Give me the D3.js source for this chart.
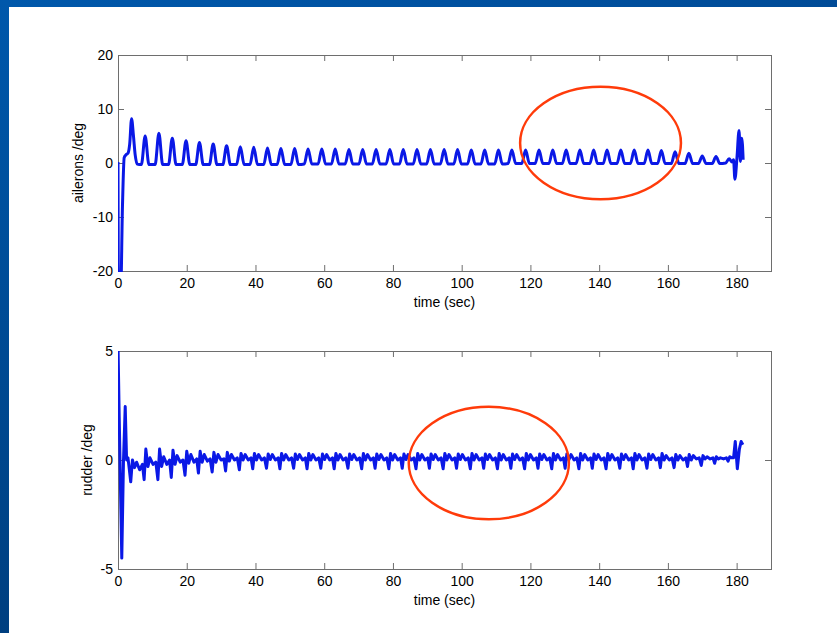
<!DOCTYPE html>
<html>
<head>
<meta charset="utf-8">
<script src="https://cdn.jsdelivr.net/npm/d3@7"></script>
<style>
  body { margin: 0; background: #fff; }
  svg { display: block; }
  text { font-family: "Liberation Sans", Arial, sans-serif; }
</style>
</head>
<body>
<svg id="chart" width="837" height="633"></svg>
<script>
// Time axis
const timeRange = [0, 190];
const timeTicks = [0, 20, 40, 60, 80, 100, 120, 140, 160, 180];

// Aileron deflection (deg) vs time (sec)
const aileronRange = [-20, 20];
const aileronTicks = [-20, -10, 0, 10, 20];
const aileronPoints = [
  [0, 0.2], [0.15, -25], [0.75, -25], [1.3, -8], [1.8, 1.0], [2.3, 1.5], [2.9, 1.8],
  [3.4, 3.5], [3.95, 8.2], [4.5, 5.0], [5.0, 1.5], [5.6, -0.2],
  [6.8, -0.3], [7.9, 5.0], [9.0, -0.3],
  [10.8, -0.3], [11.9, 5.5], [13.0, -0.3],
  [14.7, -0.3], [15.8, 4.6], [16.9, -0.3],
  [18.7, -0.3], [19.8, 4.1], [20.9, -0.3],
  [22.6, -0.3], [23.7, 3.8], [24.8, -0.3],
  [26.6, -0.3], [27.7, 3.5], [28.8, -0.3],
  [30.5, -0.3], [31.6, 3.2], [32.7, -0.3],
  [34.5, -0.3], [35.6, 3.0], [36.7, -0.3],
  [38.4, -0.3], [39.5, 2.9], [40.6, -0.3],
  [42.4, -0.3], [43.5, 2.8], [44.6, -0.3],
  [46.3, -0.3], [47.4, 2.7], [48.5, -0.3],
  [50.3, -0.3], [51.4, 2.7], [52.5, -0.3],
  [54.2, -0.2], [55.3, 2.6], [56.4, -0.2],
  [58.2, -0.2], [59.3, 2.6], [60.4, -0.2],
  [62.1, -0.2], [63.2, 2.6], [64.3, -0.2],
  [66.1, -0.2], [67.2, 2.5], [68.3, -0.2],
  [70.1, -0.2], [71.2, 2.5], [72.3, -0.2],
  [74.0, -0.2], [75.1, 2.5], [76.2, -0.2],
  [78.0, -0.2], [79.1, 2.5], [80.2, -0.2],
  [81.9, -0.2], [83.0, 2.5], [84.1, -0.2],
  [85.9, -0.2], [87.0, 2.5], [88.1, -0.2],
  [89.8, -0.2], [90.9, 2.5], [92.0, -0.2],
  [93.8, -0.2], [94.9, 2.5], [96.0, -0.2],
  [97.7, -0.2], [98.8, 2.5], [99.9, -0.2],
  [101.7, -0.2], [102.8, 2.4], [103.9, -0.2],
  [105.6, -0.2], [106.7, 2.4], [107.8, -0.2],
  [109.6, -0.2], [110.7, 2.4], [111.8, -0.2],
  [113.5, -0.1], [114.6, 2.4], [115.7, -0.1],
  [117.5, -0.1], [118.6, 2.4], [119.7, -0.1],
  [121.4, -0.1], [122.5, 2.4], [123.6, -0.1],
  [125.4, -0.1], [126.5, 2.4], [127.6, -0.1],
  [129.3, -0.1], [130.4, 2.4], [131.5, -0.1],
  [133.3, -0.1], [134.4, 2.4], [135.5, -0.1],
  [137.3, -0.1], [138.4, 2.4], [139.5, -0.1],
  [141.2, -0.1], [142.3, 2.4], [143.4, -0.1],
  [145.2, -0.1], [146.3, 2.4], [147.4, -0.1],
  [149.1, -0.1], [150.2, 2.4], [151.3, -0.1],
  [153.1, -0.1], [154.2, 2.4], [155.3, -0.1],
  [157.0, -0.1], [158.1, 2.3], [159.2, -0.1],
  [161.0, -0.1], [162.1, 2.1], [163.2, -0.1],
  [165.0, -0.1], [166.1, 1.8], [167.2, -0.1],
  [168.9, -0.1], [170.0, 1.3], [171.1, -0.1],
  [172.9, -0.1], [174.0, 1.2], [175.1, -0.1],
  [176.8, 0.0], [177.8, 0.8], [178.6, 0.2],
  [179.1, 0.6], [179.5, -3.0], [180.1, 1.0], [180.7, 6.0], [181.1, 0.3], [181.5, 4.6], [181.9, 0.6]
];

// Rudder deflection (deg) vs time (sec)
const rudderRange = [-5, 5];
const rudderTicks = [-5, 0, 5];
const rudderPoints = [
  [0, 5.3], [0.35, 2.0], [1.1, -4.5], [1.6, 0.0], [2.1, 2.45], [2.5, 0.0], [2.9, 0.1], [3.2, -0.3],
  [3.7, -1.0], [4.2, 0.0], [4.8, -0.35], [5.4, -0.1], [6.3, -0.45], [7.1, -0.2],
  [7.6, -0.9], [8.1, 0.5], [8.7, -0.3], [9.3, 0.1], [10.2, -0.2], [11.0, -0.1],
  [11.6, -0.9], [12.1, 0.5], [12.7, -0.3], [13.3, 0.15], [14.2, -0.2], [15.0, 0.0],
  [15.5, -0.8], [16.0, 0.45], [16.6, -0.2], [17.2, 0.2], [18.1, -0.1], [18.9, 0.0],
  [19.5, -0.7], [20.0, 0.4], [20.6, -0.15], [21.2, 0.25], [22.1, -0.1], [22.9, 0.05],
  [23.4, -0.6], [23.9, 0.4], [24.5, -0.1], [25.1, 0.25], [26.0, -0.05], [26.8, 0.05],
  [27.4, -0.55], [27.9, 0.35], [28.5, -0.1], [29.1, 0.25], [30.0, 0.0], [30.8, 0.05],
  [31.3, -0.5], [31.8, 0.35], [32.4, -0.05], [33.0, 0.25], [33.9, 0.0], [34.7, 0.1],
  [35.3, -0.45], [35.8, 0.3], [36.4, 0.0], [37.0, 0.25], [37.9, 0.0], [38.7, 0.1],
  [39.2, -0.4], [39.7, 0.3], [40.3, 0.0], [40.9, 0.25], [41.8, 0.0], [42.6, 0.1],
  [43.2, -0.38], [43.7, 0.28], [44.3, 0.02], [44.9, 0.25], [45.8, 0.0], [46.6, 0.1],
  [47.1, -0.4], [47.6, 0.3], [48.2, 0.0], [48.8, 0.25], [49.7, 0.0], [50.5, 0.1],
  [51.1, -0.38], [51.6, 0.28], [52.2, 0.02], [52.8, 0.25], [53.7, 0.0], [54.5, 0.1],
  [55.0, -0.4], [55.5, 0.3], [56.1, 0.0], [56.7, 0.25], [57.6, 0.0], [58.4, 0.1],
  [59.0, -0.38], [59.5, 0.28], [60.1, 0.02], [60.7, 0.25], [61.6, 0.0], [62.4, 0.1],
  [62.9, -0.4], [63.4, 0.3], [64.0, 0.0], [64.6, 0.25], [65.5, 0.0], [66.3, 0.1],
  [66.9, -0.38], [67.4, 0.28], [68.0, 0.02], [68.6, 0.25], [69.5, 0.0], [70.3, 0.1],
  [70.9, -0.4], [71.4, 0.3], [72.0, 0.0], [72.6, 0.25], [73.5, 0.0], [74.3, 0.1],
  [74.8, -0.38], [75.3, 0.28], [75.9, 0.02], [76.5, 0.25], [77.4, 0.0], [78.2, 0.1],
  [78.8, -0.4], [79.3, 0.3], [79.9, 0.0], [80.5, 0.25], [81.4, 0.0], [82.2, 0.1],
  [82.7, -0.38], [83.2, 0.28], [83.8, 0.02], [84.4, 0.25], [85.3, 0.0], [86.1, 0.1],
  [86.7, -0.4], [87.2, 0.3], [87.8, 0.0], [88.4, 0.25], [89.3, 0.0], [90.1, 0.1],
  [90.6, -0.38], [91.1, 0.28], [91.7, 0.02], [92.3, 0.25], [93.2, 0.0], [94.0, 0.1],
  [94.6, -0.4], [95.1, 0.3], [95.7, 0.0], [96.3, 0.25], [97.2, 0.0], [98.0, 0.1],
  [98.5, -0.38], [99.0, 0.28], [99.6, 0.02], [100.2, 0.25], [101.1, 0.0], [101.9, 0.1],
  [102.5, -0.4], [103.0, 0.3], [103.6, 0.0], [104.2, 0.25], [105.1, 0.0], [105.9, 0.1],
  [106.4, -0.38], [106.9, 0.28], [107.5, 0.02], [108.1, 0.25], [109.0, 0.0], [109.8, 0.1],
  [110.4, -0.4], [110.9, 0.3], [111.5, 0.0], [112.1, 0.25], [113.0, 0.0], [113.8, 0.1],
  [114.3, -0.38], [114.8, 0.28], [115.4, 0.02], [116.0, 0.25], [116.9, 0.0], [117.7, 0.1],
  [118.3, -0.4], [118.8, 0.3], [119.4, 0.0], [120.0, 0.25], [120.9, 0.0], [121.7, 0.1],
  [122.2, -0.38], [122.7, 0.28], [123.3, 0.02], [123.9, 0.25], [124.8, 0.0], [125.6, 0.1],
  [126.2, -0.4], [126.7, 0.3], [127.3, 0.0], [127.9, 0.25], [128.8, 0.0], [129.6, 0.1],
  [130.1, -0.38], [130.6, 0.28], [131.2, 0.02], [131.8, 0.25], [132.7, 0.0], [133.5, 0.1],
  [134.1, -0.4], [134.6, 0.3], [135.2, 0.0], [135.8, 0.25], [136.7, 0.0], [137.5, 0.1],
  [138.0, -0.38], [138.5, 0.28], [139.1, 0.02], [139.7, 0.25], [140.6, 0.0], [141.4, 0.1],
  [142.0, -0.4], [142.5, 0.3], [143.1, 0.0], [143.7, 0.25], [144.6, 0.0], [145.4, 0.1],
  [146.0, -0.38], [146.5, 0.28], [147.1, 0.02], [147.7, 0.25], [148.6, 0.0], [149.4, 0.1],
  [149.9, -0.4], [150.4, 0.3], [151.0, 0.0], [151.6, 0.25], [152.5, 0.0], [153.3, 0.1],
  [153.9, -0.38], [154.4, 0.28], [155.0, 0.02], [155.6, 0.25], [156.5, 0.0], [157.3, 0.1],
  [157.8, -0.35], [158.3, 0.3], [158.9, 0.0], [159.5, 0.2], [160.4, 0.0], [161.2, 0.1],
  [161.8, -0.35], [162.3, 0.25], [162.9, 0.0], [163.5, 0.2], [164.4, 0.0], [165.2, 0.1],
  [165.7, -0.3], [166.2, 0.25], [166.8, 0.0], [167.4, 0.2], [168.3, 0.05], [169.1, 0.1],
  [169.7, -0.25], [170.2, 0.2], [170.8, 0.05], [171.4, 0.15], [172.3, 0.05], [173.1, 0.1],
  [173.6, -0.15], [174.1, 0.15], [174.7, 0.05], [175.3, 0.1], [176.2, 0.05], [177.0, 0.1],
  [177.5, -0.05], [178.0, 0.15], [178.6, 0.1],
  [179.1, 0.1], [179.6, 0.85], [180.2, -0.4], [180.8, 0.5], [181.3, 0.85], [181.8, 0.7]
];

// Highlight ellipses: [centre time, centre deg, half-width sec, half-height deg]
const aileronHighlight = [140.4, 3.7, 23.4, 10.4];
const rudderHighlight = [107.9, -0.14, 23.3, 2.58];

const svg = d3.select('#chart');
const W = 837, H = 633;

// Slide background: white page with blue frame on top and left
const defs = svg.append('defs');
const gTop = defs.append('linearGradient').attr('id', 'bandTop');
gTop.append('stop').attr('offset', '0%').attr('stop-color', '#0058ab');
gTop.append('stop').attr('offset', '100%').attr('stop-color', '#004b97');
const gLeft = defs.append('linearGradient').attr('id', 'bandLeft')
    .attr('x1', 0).attr('y1', 0).attr('x2', 0).attr('y2', 1);
gLeft.append('stop').attr('offset', '0%').attr('stop-color', '#0058ab');
gLeft.append('stop').attr('offset', '100%').attr('stop-color', '#003f80');

svg.append('rect').attr('width', W).attr('height', H).attr('fill', '#fff');
svg.append('rect').attr('width', W).attr('height', 7).attr('fill', 'url(#bandTop)');
svg.append('rect').attr('width', 9).attr('height', H).attr('fill', 'url(#bandLeft)');

const plotLeft = 118, plotRight = 771;
const axisColor = '#6e6e6e';
const lineColor = '#0a18e6';
const plainNumber = d => String(d);   // hyphen minus, as in the original

function drawPanel(id, top, bottom, points, domain, ticks, label, labelX, curve, highlight) {
    const w = plotRight - plotLeft;
    const h = bottom - top;
    const g = svg.append('g').attr('transform', `translate(${plotLeft},${top})`);

    const x = d3.scaleLinear().domain(timeRange).range([0, w]);
    const y = d3.scaleLinear().domain(domain).range([h, 0]);

    // Ticks on all four sides, pointing inwards
    const axes = [
        [d3.axisBottom(x).tickValues(timeTicks).tickFormat(plainNumber).tickPadding(7), `translate(0,${h})`],
        [d3.axisTop(x).tickValues(timeTicks).tickFormat(''), null],
        [d3.axisLeft(y).tickValues(ticks).tickFormat(plainNumber).tickPadding(5), null],
        [d3.axisRight(y).tickValues(ticks).tickFormat(''), `translate(${w},0)`]
    ];
    axes.forEach(([ax, tr]) => {
        const a = g.append('g').call(ax.tickSizeInner(-6).tickSizeOuter(0));
        if (tr) a.attr('transform', tr);
        a.select('.domain').remove();
        a.selectAll('line').attr('stroke', axisColor);
        a.selectAll('text').attr('fill', '#000').style('font-size', '14px')
            .style('font-family', '"Liberation Sans", Arial, sans-serif');
    });

    // Box
    g.append('rect')
        .attr('x', 0.5).attr('y', 0.5)
        .attr('width', w).attr('height', h)
        .attr('fill', 'none')
        .attr('stroke', axisColor);

    // Signal, clipped to the axes box
    g.append('clipPath').attr('id', id + '-clip')
        .append('rect').attr('width', w + 1).attr('height', h + 1);

    const line = d3.line()
        .x(d => x(d[0]))
        .y(d => y(d[1]))
        .curve(curve);

    g.append('path')
        .datum(points)
        .attr('clip-path', `url(#${id}-clip)`)
        .attr('d', line)
        .attr('fill', 'none')
        .attr('stroke', lineColor)
        .attr('stroke-width', 3)
        .attr('stroke-linejoin', 'round');

    // Red highlight ellipse
    g.append('ellipse')
        .attr('cx', x(highlight[0]))
        .attr('cy', y(highlight[1]))
        .attr('rx', x(highlight[2]) - x(0))
        .attr('ry', y(0) - y(highlight[3]))
        .attr('fill', 'none')
        .attr('stroke', '#ff3b0a')
        .attr('stroke-width', 2.5);

    // Axis titles
    g.append('text')
        .attr('x', w / 2)
        .attr('y', h + 36)
        .attr('text-anchor', 'middle')
        .style('font-size', '14px')
        .text('time (sec)');

    g.append('text')
        .attr('transform', `translate(${labelX},${h / 2}) rotate(-90)`)
        .attr('text-anchor', 'middle')
        .style('font-size', '14px')
        .text(label);
}

drawPanel('ail', 55, 271, aileronPoints, aileronRange, aileronTicks,
    'ailerons /deg', -35, d3.curveMonotoneX, aileronHighlight);
drawPanel('rud', 351, 569, rudderPoints, rudderRange, rudderTicks,
    'rudder /deg', -26, d3.curveLinear, rudderHighlight);
</script>
</body>
</html>
